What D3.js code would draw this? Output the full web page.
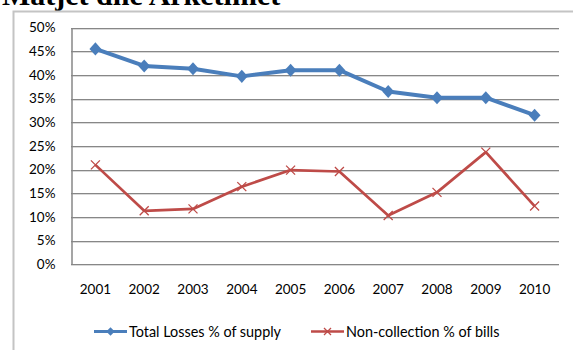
<!DOCTYPE html>
<html>
<head>
<meta charset="utf-8">
<script src="https://cdn.jsdelivr.net/npm/d3@7"></script>
<style>
  html, body { margin: 0; padding: 0; background: #fff; }
  svg { display: block; }
</style>
</head>
<body>
<svg id="chart" width="573" height="350"></svg>
<script>
// Years on the category axis
const years = ["2001", "2002", "2003", "2004", "2005", "2006", "2007", "2008", "2009", "2010"];
// Total losses as % of supply
const totalLosses = [45.5, 41.9, 41.3, 39.7, 41.0, 41.0, 36.5, 35.2, 35.2, 31.5];
// Non-collection as % of bills
const nonCollection = [21.0, 11.3, 11.7, 16.4, 19.9, 19.6, 10.3, 15.2, 23.7, 12.3];
// Value axis ticks
const yTicks = [0, 5, 10, 15, 20, 25, 30, 35, 40, 45, 50];
const seriesNames = ["Total Losses % of supply", "Non-collection % of bills"];

const svg = d3.select("#chart");
const font = "Lato, 'Open Sans', sans-serif";

// Heading sitting above the chart frame
svg.append("text")
  .attr("x", 2).attr("y", 5)
  .attr("font-family", "'Liberation Serif', 'Times New Roman', serif")
  .attr("font-weight", "bold")
  .attr("font-size", 30)
  .attr("fill", "#000")
  .text("Matjet dhe Arketimet");

// Chart frame (left and top edges)
svg.append("path")
  .attr("d", "M13.5,360 V11.5 H580")
  .attr("fill", "none")
  .attr("stroke", "#c4c4c4")
  .attr("stroke-width", 2);

const plot = { left: 71, right: 559, top: 27.6, bottom: 264.3 };

const x = d3.scaleBand().domain(years).range([plot.left, plot.right]);
const y = d3.scaleLinear().domain([0, 50]).range([plot.bottom, plot.top]);

// Horizontal gridlines with a soft shadow line under each
const grid = svg.append("g");
grid.selectAll("line.shadow").data(yTicks).join("line")
  .attr("class", "shadow")
  .attr("x1", plot.left).attr("x2", plot.right)
  .attr("y1", d => Math.round(y(d)) + 1.5).attr("y2", d => Math.round(y(d)) + 1.5)
  .attr("stroke", "#d9d9d9").attr("stroke-width", 1);
grid.selectAll("line.main").data(yTicks).join("line")
  .attr("class", "main")
  .attr("x1", plot.left).attr("x2", plot.right)
  .attr("y1", d => Math.round(y(d)) + 0.5).attr("y2", d => Math.round(y(d)) + 0.5)
  .attr("stroke", "#878787").attr("stroke-width", 1);

// Value axis
const yAxis = svg.append("g")
  .attr("transform", `translate(${plot.left + 0.5},0)`)
  .call(d3.axisLeft(y).tickValues(yTicks).tickSize(0).tickPadding(16).tickFormat(d => d + "%"));
yAxis.select(".domain").attr("stroke", "#878787").attr("stroke-width", 1.5);
yAxis.selectAll("text")
  .attr("font-family", font).attr("font-size", 13.5).attr("fill", "#000");

// Category axis labels
const xAxis = svg.append("g")
  .attr("transform", `translate(0,${plot.bottom})`)
  .call(d3.axisBottom(x).tickSize(0).tickPadding(20));
xAxis.select(".domain").remove();
xAxis.selectAll("text")
  .attr("font-family", font).attr("font-size", 13.5).attr("fill", "#000");

const cx = d => x(d) + x.bandwidth() / 2;
const line = d3.line().x(d => cx(d.year)).y(d => y(d.v));

const blue = "#4a7ebb";
const red = "#be4b48";

const lossData = years.map((yr, i) => ({ year: yr, v: totalLosses[i] }));
const nonData = years.map((yr, i) => ({ year: yr, v: nonCollection[i] }));

const diamond = d3.symbol().type(d3.symbolDiamond2).size(90);

function drawX(sel, s) {
  sel.append("path")
    .attr("d", `M${-s},${-s} L${s},${s} M${-s},${s} L${s},${-s}`)
    .attr("stroke", red).attr("stroke-width", 1.3).attr("fill", "none");
}

// Non-collection series
svg.append("path").datum(nonData)
  .attr("d", line).attr("fill", "none")
  .attr("stroke", red).attr("stroke-width", 2.7).attr("stroke-linejoin", "round");
svg.append("g").selectAll("g").data(nonData).join("g")
  .attr("transform", d => `translate(${cx(d.year)},${y(d.v)})`)
  .each(function () { drawX(d3.select(this), 4.5); });

// Total losses series
svg.append("path").datum(lossData)
  .attr("d", line).attr("fill", "none")
  .attr("stroke", blue).attr("stroke-width", 4).attr("stroke-linejoin", "round");
svg.append("g").selectAll("path").data(lossData).join("path")
  .attr("transform", d => `translate(${cx(d.year)},${y(d.v)}) scale(1,1.1)`)
  .attr("d", diamond).attr("fill", blue);

// Legend
const legendY = 331.5;
const lg1 = svg.append("g").attr("transform", `translate(94,${legendY})`);
lg1.append("line").attr("x1", 0).attr("x2", 33).attr("stroke", blue).attr("stroke-width", 3);
lg1.append("path").attr("transform", "translate(16.5,0)").attr("d", d3.symbol().type(d3.symbolDiamond2).size(45)).attr("fill", blue);
lg1.append("text").attr("x", 35).attr("dy", "0.35em")
  .attr("font-family", font).attr("font-size", 14.4).text(seriesNames[0]);

const lg2 = svg.append("g").attr("transform", `translate(311,${legendY})`);
lg2.append("line").attr("x1", 0).attr("x2", 33).attr("stroke", red).attr("stroke-width", 2.5);
drawX(lg2.append("g").attr("transform", "translate(16.5,0)"), 3.5);
lg2.append("text").attr("x", 35).attr("dy", "0.35em")
  .attr("font-family", font).attr("font-size", 14.4).text(seriesNames[1]);
</script>
</body>
</html>
